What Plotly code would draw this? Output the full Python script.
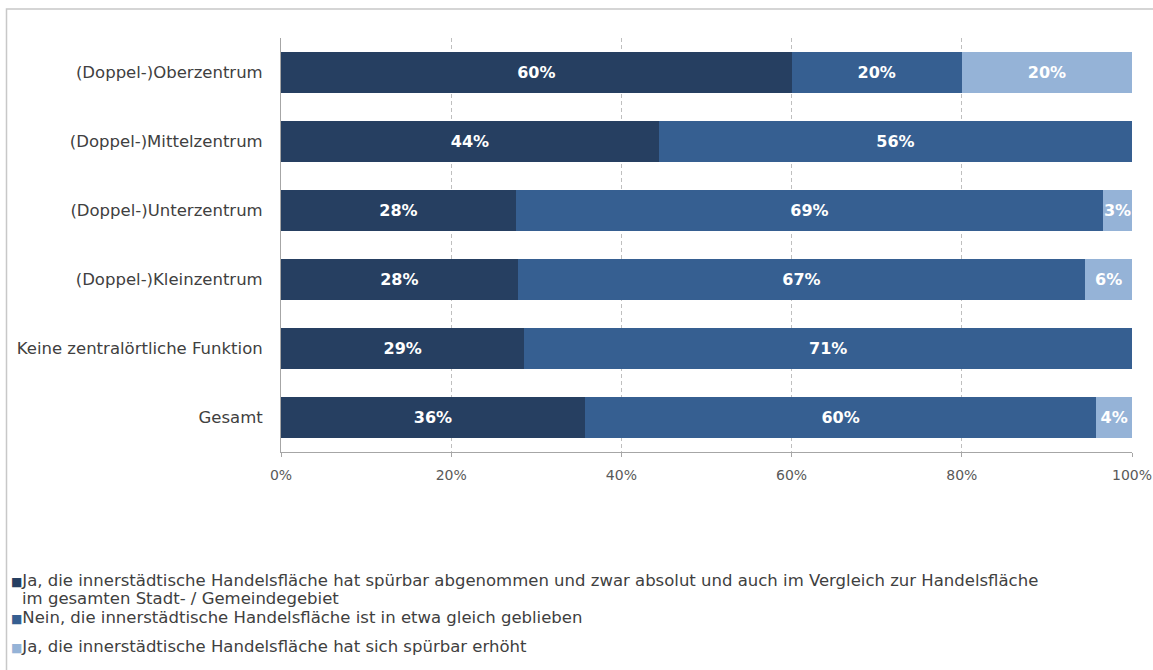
import plotly.graph_objects as go

# Categories (top to bottom) and shares in percent
categories = [
    "(Doppel-)Oberzentrum",
    "(Doppel-)Mittelzentrum",
    "(Doppel-)Unterzentrum",
    "(Doppel-)Kleinzentrum",
    "Keine zentralörtliche Funktion",
    "Gesamt",
]
abgenommen = [60.0, 44.4, 27.6, 27.8, 28.6, 35.7]
gleich = [20.0, 55.6, 69.0, 66.7, 71.4, 60.1]
erhoeht = [20.0, 0.0, 3.4, 5.5, 0.0, 4.2]

series_names = [
    "Ja, die innerstädtische Handelsfläche hat spürbar abgenommen und zwar absolut und auch im Vergleich zur Handelsfläche<br>im gesamten Stadt- / Gemeindegebiet",
    "Nein, die innerstädtische Handelsfläche ist in etwa gleich geblieben",
    "Ja, die innerstädtische Handelsfläche hat sich spürbar erhöht",
]
series_colors = ["#263F61", "#365F91", "#95B3D7"]
tick_vals = [0, 20, 40, 60, 80, 100]
tick_text = ["0%", "20%", "40%", "60%", "80%", "100%"]

FONT = "DejaVu Sans, Verdana, sans-serif"
W, H = 1153, 670
L, R, T, B = 281, 21, 38, 218
PW, PH = W - L - R, H - T - B


def px_x(p):
    return (p - L) / PW


def px_y(p):
    return (H - B - p) / PH


fig = go.Figure()
for name, vals, color in zip(series_names, [abgenommen, gleich, erhoeht], series_colors):
    labels = [f"{v:.0f}%" if v > 0 else "" for v in vals]
    fig.add_trace(go.Bar(
        y=categories,
        x=vals,
        name=name,
        orientation="h",
        marker=dict(color=color, line=dict(width=0)),
        text=labels,
        texttemplate="%{text}",
        textposition="inside",
        insidetextanchor="middle",
        textangle=0,
        constraintext="none",
        textfont=dict(family=FONT, size=16, color="white", weight="bold"),
        hoverinfo="skip",
        showlegend=False,
    ))

# Legend drawn as text lines with a coloured square marker
legend_rows = [580, 617, 646]
for name, color, row in zip(series_names, series_colors, legend_rows):
    lines = name.split("<br>")
    for i, line in enumerate(lines):
        if i == 0:
            txt = f"<span style='color:{color};font-size:12px'>■</span>{line}"
            x0 = 9
        else:
            txt = line
            x0 = 20
        fig.add_annotation(
            xref="paper", yref="paper",
            x=px_x(x0), y=px_y(row + 18.5 * i),
            xanchor="left", yanchor="middle",
            text=txt, showarrow=False,
            font=dict(family=FONT, size=16.5, color="#404040"),
        )

# Outer chart frame
fig.add_shape(type="rect", xref="paper", yref="paper",
              x0=px_x(6.5), x1=px_x(1160), y0=px_y(690), y1=px_y(9),
              line=dict(color="#C8C8C8", width=1.5), fillcolor="rgba(0,0,0,0)",
              layer="below")

fig.update_layout(
    width=W, height=H,
    margin=dict(l=L, r=R, t=T, b=B, autoexpand=False),
    barmode="stack",
    bargap=0.42,
    paper_bgcolor="white",
    plot_bgcolor="white",
    font=dict(family=FONT, color="#404040"),
    showlegend=False,
    xaxis=dict(
        range=[0, 100],
        tickvals=tick_vals,
        ticktext=tick_text,
        showgrid=True,
        gridcolor="#BFBFBF",
        griddash="4px,3px",
        gridwidth=1,
        zeroline=False,
        showline=True,
        linecolor="#A6A6A6",
        linewidth=1,
        ticks="outside",
        ticklen=4,
        tickcolor="#A6A6A6",
        ticklabelstandoff=6,
        tickfont=dict(family=FONT, size=14, color="#595959"),
        fixedrange=True,
    ),
    yaxis=dict(
        categoryorder="array",
        categoryarray=categories[::-1],
        showgrid=False,
        showline=True,
        linecolor="#A6A6A6",
        linewidth=1,
        ticks="",
        ticklabelstandoff=14,
        tickfont=dict(family=FONT, size=16.5, color="#404040"),
        fixedrange=True,
    ),
)

fig.write_html("out.html")
